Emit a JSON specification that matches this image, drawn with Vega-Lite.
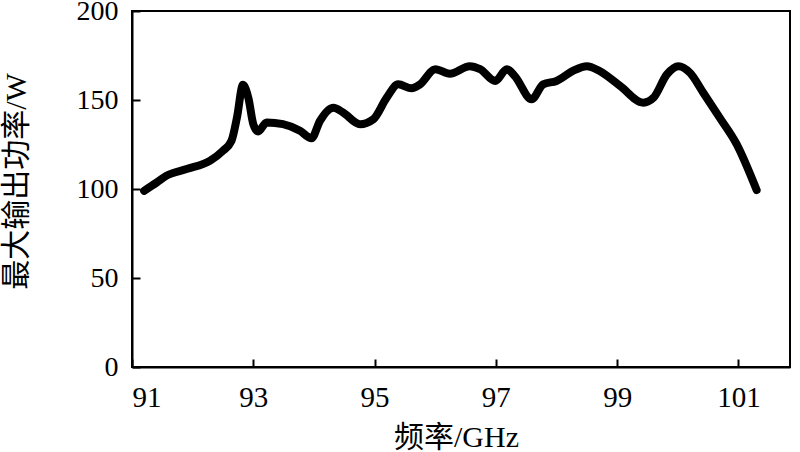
{
  "$schema": "https://vega.github.io/schema/vega-lite/v6.json",
  "autosize": "none",
  "width": 658,
  "height": 356,
  "padding": {"left": 132, "top": 11, "right": 10, "bottom": 85},
  "background": "white",
  "config": {
    "view": {"stroke": "black", "strokeWidth": 2},
    "font": "Liberation Serif",
    "axis": {"labelFont": "Liberation Serif", "titleFont": "Liberation Serif, Noto Sans CJK SC"}
  },
  "data": {
    "values": [
      {"f": 91.2, "p": 99},
      {"f": 91.41, "p": 103.7},
      {"f": 91.57, "p": 107.5},
      {"f": 91.9, "p": 111.2},
      {"f": 92.29, "p": 116},
      {"f": 92.5, "p": 121.5},
      {"f": 92.64, "p": 127},
      {"f": 92.73, "p": 140},
      {"f": 92.83, "p": 158.5},
      {"f": 92.92, "p": 151},
      {"f": 93.0, "p": 136.4},
      {"f": 93.08, "p": 132.3},
      {"f": 93.22, "p": 137.4},
      {"f": 93.49, "p": 136.4},
      {"f": 93.77, "p": 132.7},
      {"f": 93.96, "p": 128.5},
      {"f": 94.1, "p": 138.3},
      {"f": 94.32, "p": 145.7},
      {"f": 94.48, "p": 143},
      {"f": 94.76, "p": 136.4},
      {"f": 94.98, "p": 139.2},
      {"f": 95.2, "p": 151.3},
      {"f": 95.39, "p": 158.8},
      {"f": 95.61, "p": 156.6},
      {"f": 95.75, "p": 158.8},
      {"f": 96.0, "p": 167.3},
      {"f": 96.24, "p": 164.8},
      {"f": 96.57, "p": 169},
      {"f": 96.74, "p": 167.3},
      {"f": 96.99, "p": 160.7},
      {"f": 97.18, "p": 167.3},
      {"f": 97.31, "p": 163.5},
      {"f": 97.59, "p": 150.4},
      {"f": 97.78, "p": 158.8},
      {"f": 98.0, "p": 160.7},
      {"f": 98.27, "p": 166.3},
      {"f": 98.5, "p": 169},
      {"f": 98.71, "p": 166.3},
      {"f": 99.05, "p": 157.9},
      {"f": 99.43, "p": 148.5},
      {"f": 99.6, "p": 151.3},
      {"f": 99.82, "p": 164.4},
      {"f": 100.01, "p": 169},
      {"f": 100.2, "p": 165.3},
      {"f": 100.42, "p": 154.1},
      {"f": 100.69, "p": 140.1},
      {"f": 100.97, "p": 125.2},
      {"f": 101.3, "p": 99.4}
    ]
  },
  "mark": {"type": "line", "color": "black", "strokeWidth": 8, "strokeCap": "round", "strokeJoin": "round", "interpolate": "monotone"},
  "encoding": {
    "x": {
      "field": "f", "type": "quantitative",
      "scale": {"domain": [91, 101.85], "nice": false, "zero": false},
      "axis": {
        "values": [91, 93, 95, 97, 99, 101],
        "title": "频率/GHz",
        "titleFontSize": 30, "titleFontWeight": "normal", "titleColor": "black",
        "titleX": 324, "titleY": 70, "titleBaseline": "middle", "titleAlign": "center",
        "labelFontSize": 29, "labelColor": "black", "labelPadding": 24,
        "tickSize": -8, "tickColor": "black", "tickWidth": 2,
        "domainColor": "black", "domainWidth": 2,
        "grid": false
      }
    },
    "y": {
      "field": "p", "type": "quantitative",
      "scale": {"domain": [0, 200], "nice": false},
      "axis": {
        "values": [0, 50, 100, 150, 200],
        "title": "最大输出功率/W",
        "titleFontSize": 30, "titleFontWeight": "normal", "titleColor": "black",
        "titleX": -116, "titleY": 170, "titleAngle": -90, "titleBaseline": "middle", "titleAlign": "center",
        "labelFontSize": 28, "labelColor": "black", "labelPadding": 22,
        "tickSize": -8, "tickColor": "black", "tickWidth": 2,
        "domainColor": "black", "domainWidth": 2,
        "grid": false
      }
    }
  }
}
